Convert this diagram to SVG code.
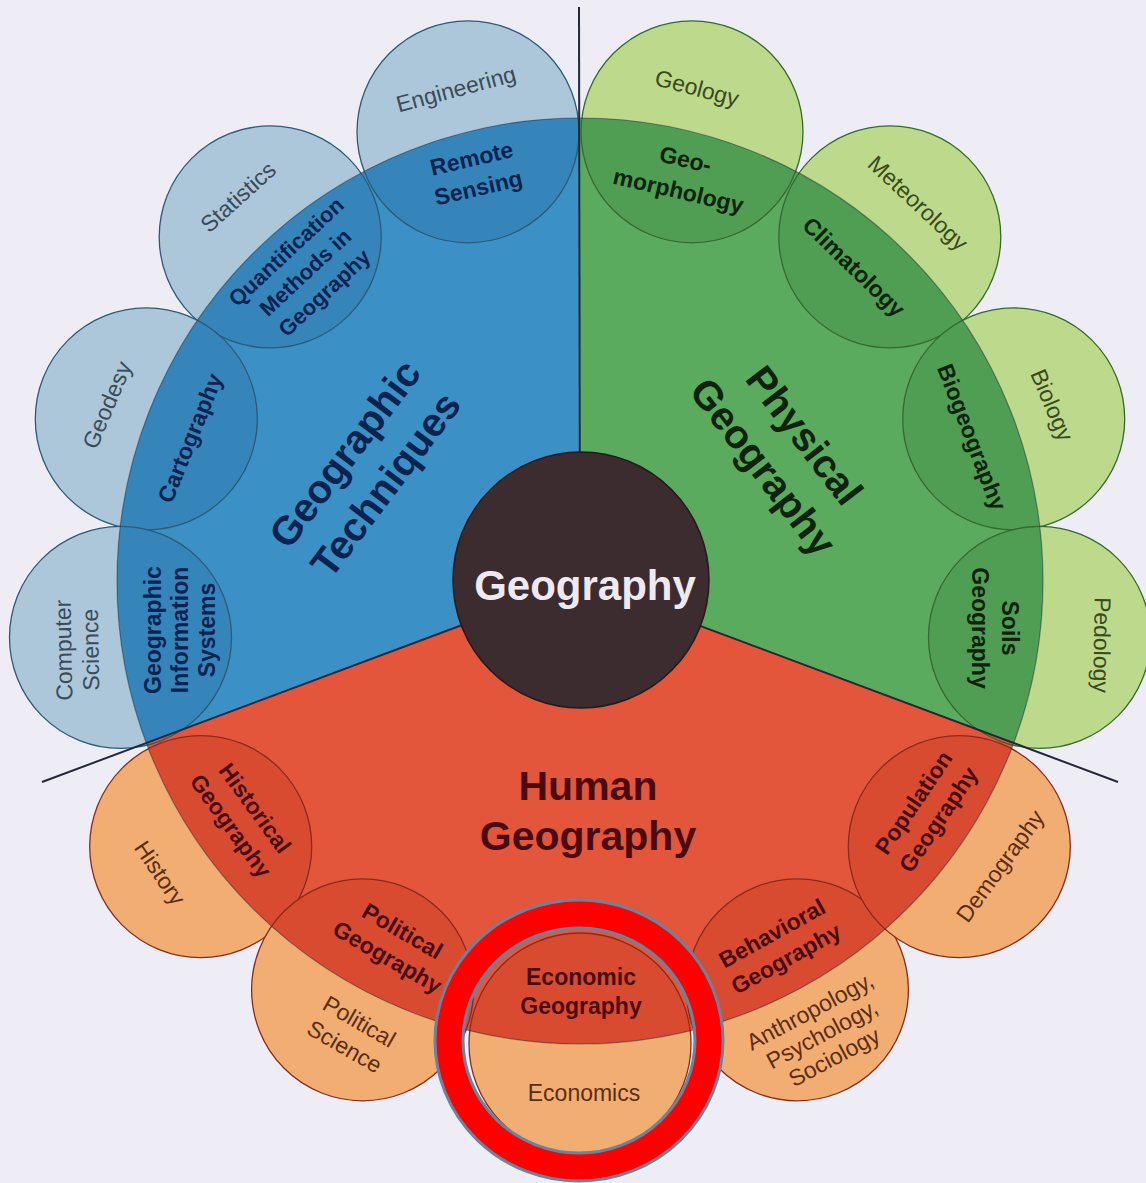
<svg xmlns="http://www.w3.org/2000/svg" width="1146" height="1183" viewBox="0 0 1146 1183">
<style>
.lb{fill:#abc7d9}.db{fill:#3585ba}.ob{fill:none;stroke:#2d5a78;stroke-width:1.3}
.lg{fill:#bdd98c}.dg{fill:#4f9e53}.og{fill:none;stroke:#356a30;stroke-width:1.3}
.lr{fill:#f1ad72}.dr{fill:#d94b31}.or{fill:none;stroke:#8b2a1c;stroke-width:1.3}
text{font-family:"Liberation Sans",Arial,Helvetica,sans-serif;text-anchor:middle}
.to{font-size:23px}.ti{font-size:23px;font-weight:bold}
.tt{font-size:40px;font-weight:bold}
.ob1{fill:#3b4b5a}.og1{fill:#3a4a1c}.or1{fill:#5b2e12}
.ib{fill:#0b2350}.ig{fill:#0f230c}.ir{fill:#4a0b10}
.div{stroke:#25283a;stroke-width:2;fill:none}
</style>
<defs>
<mask id="outside"><rect width="1146" height="1183" fill="#fff"/><circle cx="580" cy="581" r="463" fill="#000"/></mask>
<clipPath id="cb"><path d="M580,581 L580,118 A463,463 0 0 0 146.32,743.15 Z"/></clipPath>
<clipPath id="cg"><path d="M580,581 L580,118 A463,463 0 0 1 1013.68,743.15 Z"/></clipPath>
<clipPath id="cr"><path d="M580,581 L146.32,743.15 A463,463 0 0 0 1013.68,743.15 Z"/></clipPath>
</defs>
<rect width="1146" height="1183" fill="#eeedf6"/>

<g id="sector-techniques"><path d="M580,581 L580,118 A463,463 0 0 0 146.32,743.15 Z" fill="#3b90c5"/></g>
<g id="sector-physical"><path d="M580,581 L580,118 A463,463 0 0 1 1013.68,743.15 Z" fill="#5bab5f"/></g>
<g id="sector-human"><path d="M580,581 L146.32,743.15 A463,463 0 0 0 1013.68,743.15 Z" fill="#e4563b"/></g>

<!-- blue nodes -->
<g id="n-remote-sensing">
<circle cx="468" cy="131.8" r="111" class="lb" mask="url(#outside)"/>
<circle cx="468" cy="131.8" r="111" class="db" clip-path="url(#cb)"/>
<circle cx="468" cy="131.8" r="111" class="ob"/>
<text class="to ob1" transform="translate(456,89) rotate(-15)" y="8">Engineering</text>
<text class="ti ib" transform="translate(475,173) rotate(-13)"><tspan x="0" y="-7">Remote</tspan><tspan x="0" y="23">Sensing</tspan></text>
</g>
<g id="n-quantification">
<circle cx="270.2" cy="236.9" r="111" class="lb" mask="url(#outside)"/>
<circle cx="270.2" cy="236.9" r="111" class="db" clip-path="url(#cb)"/>
<circle cx="270.2" cy="236.9" r="111" class="ob"/>
<text class="to ob1" transform="translate(238,197) rotate(-42)" y="8">Statistics</text>
<text class="ti ib" style="font-size:22px" transform="translate(305,272) rotate(-43)"><tspan x="0" y="-20">Quantification</tspan><tspan x="0" y="8">Methods in</tspan><tspan x="0" y="36">Geography</tspan></text>
</g>
<g id="n-cartography">
<circle cx="146.3" cy="418.9" r="111" class="lb" mask="url(#outside)"/>
<circle cx="146.3" cy="418.9" r="111" class="db" clip-path="url(#cb)"/>
<circle cx="146.3" cy="418.9" r="111" class="ob"/>
<text class="to ob1" transform="translate(107,405) rotate(-67)" y="8">Geodesy</text>
<text class="ti ib" transform="translate(190,438) rotate(-68)" y="8">Cartography</text>
</g>
<g id="n-gis">
<circle cx="120.5" cy="637.4" r="111" class="lb" mask="url(#outside)"/>
<circle cx="120.5" cy="637.4" r="111" class="db" clip-path="url(#cb)"/>
<circle cx="120.5" cy="637.4" r="111" class="ob"/>
<text class="to ob1" transform="translate(77,650) rotate(-91)"><tspan x="0" y="-5.5">Computer</tspan><tspan x="0" y="21.5">Science</tspan></text>
<text class="ti ib" transform="translate(180,630) rotate(-90)"><tspan x="0" y="-19">Geographic</tspan><tspan x="0" y="8">Information</tspan><tspan x="0" y="35">Systems</tspan></text>
</g>

<!-- green nodes -->
<g id="n-geomorphology">
<circle cx="692" cy="131.8" r="111" class="lg" mask="url(#outside)"/>
<circle cx="692" cy="131.8" r="111" class="dg" clip-path="url(#cg)"/>
<circle cx="692" cy="131.8" r="111" class="og"/>
<text class="to og1" transform="translate(697,88) rotate(15)" y="8">Geology</text>
<text class="ti ig" transform="translate(682,175) rotate(13)"><tspan x="0" y="-8">Geo-</tspan><tspan x="0" y="24">morphology</tspan></text>
</g>
<g id="n-climatology">
<circle cx="889.8" cy="236.9" r="111" class="lg" mask="url(#outside)"/>
<circle cx="889.8" cy="236.9" r="111" class="dg" clip-path="url(#cg)"/>
<circle cx="889.8" cy="236.9" r="111" class="og"/>
<text class="to og1" transform="translate(918,203) rotate(43)" y="8">Meteorology</text>
<text class="ti ig" transform="translate(854,267) rotate(44)" y="8">Climatology</text>
</g>
<g id="n-biogeography">
<circle cx="1013.7" cy="418.9" r="111" class="lg" mask="url(#outside)"/>
<circle cx="1013.7" cy="418.9" r="111" class="dg" clip-path="url(#cg)"/>
<circle cx="1013.7" cy="418.9" r="111" class="og"/>
<text class="to og1" transform="translate(1052,405) rotate(67)" y="8">Biology</text>
<text class="ti ig" transform="translate(972,437) rotate(69)" y="8">Biogeography</text>
</g>
<g id="n-soils">
<circle cx="1039.5" cy="637.4" r="111" class="lg" mask="url(#outside)"/>
<circle cx="1039.5" cy="637.4" r="111" class="dg" clip-path="url(#cg)"/>
<circle cx="1039.5" cy="637.4" r="111" class="og"/>
<text class="to og1" transform="translate(1102,645) rotate(91)" y="8">Pedology</text>
<text class="ti ig" transform="translate(995,628) rotate(90)"><tspan x="0" y="-7">Soils</tspan><tspan x="0" y="23">Geography</tspan></text>
</g>

<!-- red nodes -->
<g id="n-historical">
<circle cx="200.7" cy="846.6" r="111" class="lr" mask="url(#outside)"/>
<circle cx="200.7" cy="846.6" r="111" class="dr" clip-path="url(#cr)"/>
<circle cx="200.7" cy="846.6" r="111" class="or"/>
<text class="to or1" transform="translate(160,873) rotate(56)" y="8">History</text>
<text class="ti ir" transform="translate(243,817) rotate(54)"><tspan x="0" y="-7">Historical</tspan><tspan x="0" y="23">Geography</tspan></text>
</g>
<g id="n-political">
<circle cx="362.6" cy="989.8" r="111" class="lr" mask="url(#outside)"/>
<circle cx="362.6" cy="989.8" r="111" class="dr" clip-path="url(#cr)"/>
<circle cx="362.6" cy="989.8" r="111" class="or"/>
<text class="to or1" transform="translate(352,1034) rotate(30)"><tspan x="0" y="-6.5">Political</tspan><tspan x="0" y="22.5">Science</tspan></text>
<text class="ti ir" transform="translate(395,944) rotate(30)"><tspan x="0" y="-7">Political</tspan><tspan x="0" y="23">Geography</tspan></text>
</g>
<g id="n-economic">
<circle cx="580" cy="1044" r="111" class="lr" mask="url(#outside)"/>
<circle cx="580" cy="1044" r="111" class="dr" clip-path="url(#cr)"/>
<circle cx="580" cy="1044" r="111" class="or"/>
<text class="to or1" x="584" y="1101">Economics</text>
<text class="ti ir"><tspan x="581" y="985">Economic</tspan><tspan x="581" y="1014">Geography</tspan></text>
</g>
<g id="n-behavioral">
<circle cx="797.4" cy="989.8" r="111" class="lr" mask="url(#outside)"/>
<circle cx="797.4" cy="989.8" r="111" class="dr" clip-path="url(#cr)"/>
<circle cx="797.4" cy="989.8" r="111" class="or"/>
<text class="to or1" transform="translate(822,1034) rotate(-28)"><tspan x="0" y="-18">Anthropology,</tspan><tspan x="0" y="8">Psychology,</tspan><tspan x="0" y="34">Sociology</tspan></text>
<text class="ti ir" transform="translate(779,946) rotate(-29)"><tspan x="0" y="-6.5">Behavioral</tspan><tspan x="0" y="22.5">Geography</tspan></text>
</g>
<g id="n-population">
<circle cx="959.3" cy="846.6" r="111" class="lr" mask="url(#outside)"/>
<circle cx="959.3" cy="846.6" r="111" class="dr" clip-path="url(#cr)"/>
<circle cx="959.3" cy="846.6" r="111" class="or"/>
<text class="to or1" transform="translate(1000,866) rotate(-54)" y="8">Demography</text>
<text class="ti ir" transform="translate(926,811) rotate(-56)"><tspan x="0" y="-7">Population</tspan><tspan x="0" y="23">Geography</tspan></text>
</g>

<circle cx="580" cy="581" r="463" fill="none" stroke="#1e2830" stroke-opacity="0.45" stroke-width="1.2"/>

<g id="connectors">
<line class="div" x1="580" y1="581" x2="579" y2="7"/>
<line class="div" x1="580" y1="581" x2="42" y2="782"/>
<line class="div" x1="580" y1="581" x2="1118" y2="782"/>
</g>

<g id="titles">
<text class="tt ib" transform="translate(365,469) rotate(-53)"><tspan x="0" y="-11.5">Geographic</tspan><tspan x="0" y="39.5">Techniques</tspan></text>
<text class="tt ig" transform="translate(784,451) rotate(52.5)"><tspan x="0" y="-12">Physical</tspan><tspan x="0" y="40">Geography</tspan></text>
<text class="tt ir" style="font-size:41px"><tspan x="588" y="800">Human</tspan><tspan x="588" y="850">Geography</tspan></text>
</g>

<g id="center">
<circle cx="581" cy="580" r="128" fill="#3c2b2f" stroke="#221a1c" stroke-width="1.5"/>
<text x="585" y="600" style="font-size:42px;font-weight:bold" fill="#efeaf2">Geography</text>
</g>

<g id="highlight">
<ellipse cx="579" cy="1040.5" rx="130" ry="126.5" fill="none" stroke="#ff0000" stroke-width="28"/>
<ellipse cx="579" cy="1040.5" rx="144" ry="140.5" fill="none" stroke="#6585a0" stroke-width="3"/>
<ellipse cx="579" cy="1040.5" rx="116" ry="112.5" fill="none" stroke="#6585a0" stroke-width="3"/>
</g>
</svg>
